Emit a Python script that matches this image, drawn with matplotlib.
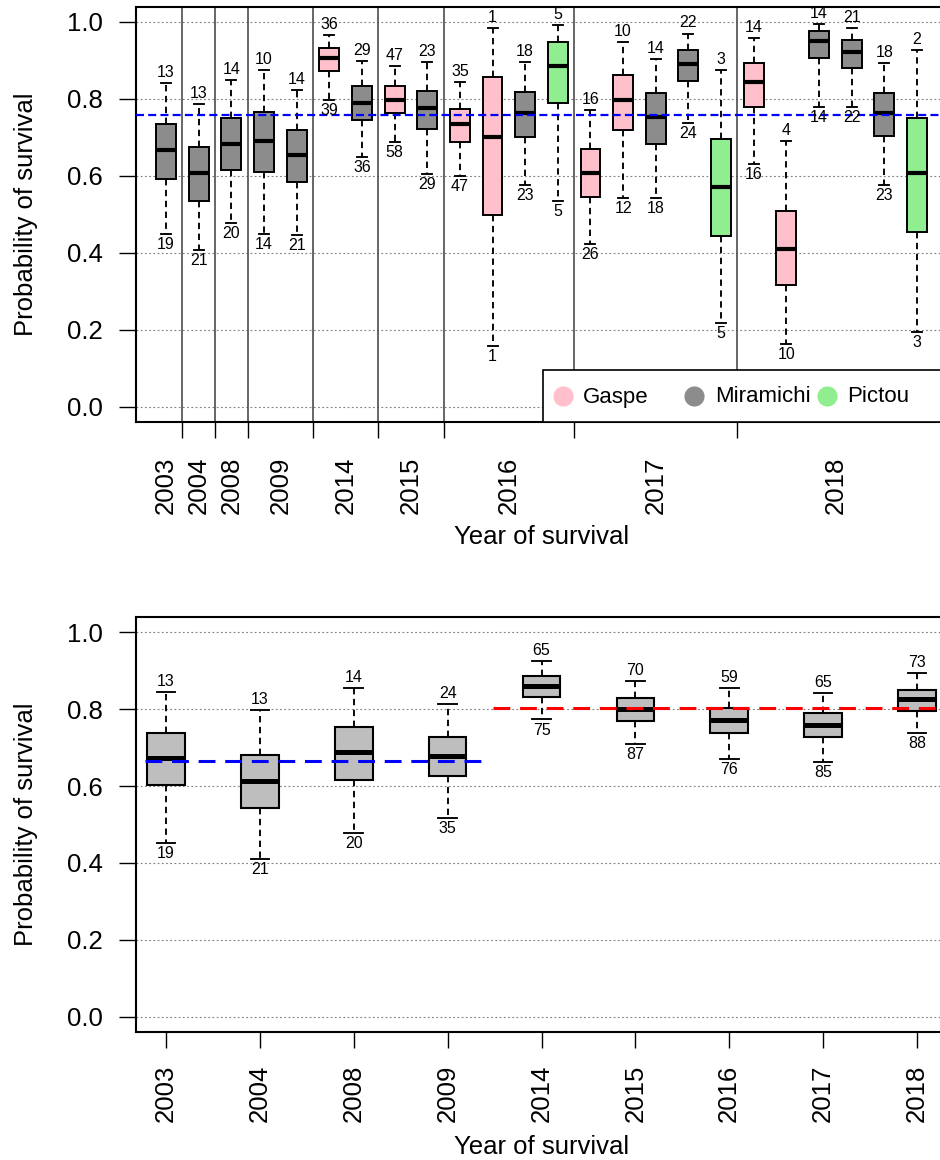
import matplotlib
matplotlib.use("Agg")
import matplotlib.pyplot as plt
from matplotlib.patches import Rectangle
import numpy as np

plt.rcParams['font.family'] = ['Liberation Sans', 'DejaVu Sans']

# ---------------- data: survival by year and river ----------------
top_groups = ['2003', '2004', '2008', '2009', '2014', '2015', '2016', '2017', '2018']
top_group_sizes = [1, 1, 1, 2, 2, 2, 4, 5, 6]
top_sites = (['Miramichi'] * 5 +
             ['Gaspe', 'Miramichi', 'Gaspe', 'Miramichi',
              'Gaspe', 'Gaspe', 'Miramichi', 'Pictou',
              'Gaspe', 'Gaspe', 'Miramichi', 'Miramichi', 'Pictou',
              'Gaspe', 'Gaspe', 'Miramichi', 'Miramichi', 'Miramichi', 'Pictou'])
top_hi = [0.842, 0.786, 0.850, 0.876, 0.822, 0.967, 0.899, 0.886, 0.897,
          0.845, 0.985, 0.897, 0.993, 0.772, 0.948, 0.903, 0.970, 0.874,
          0.958, 0.690, 0.994, 0.985, 0.894, 0.927]
top_q3 = [0.734, 0.675, 0.750, 0.766, 0.719, 0.932, 0.833, 0.833, 0.821,
          0.774, 0.857, 0.819, 0.949, 0.670, 0.861, 0.816, 0.926, 0.695,
          0.894, 0.508, 0.977, 0.953, 0.816, 0.751]
top_med = [0.666, 0.608, 0.683, 0.691, 0.653, 0.906, 0.790, 0.798, 0.776,
           0.735, 0.702, 0.764, 0.886, 0.607, 0.797, 0.753, 0.892, 0.571,
           0.843, 0.410, 0.950, 0.922, 0.764, 0.607]
top_q1 = [0.593, 0.535, 0.615, 0.611, 0.584, 0.873, 0.744, 0.764, 0.723,
          0.689, 0.498, 0.700, 0.789, 0.544, 0.718, 0.684, 0.846, 0.444,
          0.779, 0.315, 0.907, 0.881, 0.703, 0.453]
top_lo = [0.450, 0.407, 0.478, 0.449, 0.447, 0.797, 0.648, 0.687, 0.604,
          0.599, 0.158, 0.576, 0.534, 0.423, 0.542, 0.542, 0.737, 0.217,
          0.631, 0.162, 0.779, 0.779, 0.577, 0.193]
top_n_hi = [13, 13, 14, 10, 14, 36, 29, 47, 23, 35, 1, 18, 5,
            16, 10, 14, 22, 3, 14, 4, 14, 21, 18, 2]
top_n_lo = [19, 21, 20, 14, 21, 39, 36, 58, 29, 47, 1, 23, 5,
            26, 12, 18, 24, 5, 16, 10, 14, 22, 23, 3]
top_mean = 0.758

bot_years = ['2003', '2004', '2008', '2009', '2014', '2015', '2016', '2017', '2018']
bot_hi = [0.845, 0.798, 0.854, 0.812, 0.924, 0.873, 0.854, 0.842, 0.894]
bot_q3 = [0.739, 0.681, 0.754, 0.728, 0.886, 0.828, 0.802, 0.791, 0.850]
bot_med = [0.672, 0.612, 0.688, 0.679, 0.859, 0.801, 0.772, 0.759, 0.825]
bot_q1 = [0.602, 0.543, 0.616, 0.627, 0.831, 0.770, 0.738, 0.728, 0.796]
bot_lo = [0.453, 0.411, 0.479, 0.518, 0.773, 0.710, 0.670, 0.663, 0.738]
bot_n_hi = [13, 13, 14, 24, 65, 70, 59, 65, 73]
bot_n_lo = [19, 21, 20, 35, 75, 87, 76, 85, 88]
early_mean = 0.664
late_mean = 0.802

site_colors = {'Gaspe': '#FFC0CB', 'Miramichi': '#8C8C8C', 'Pictou': '#90EE90'}
site_order = ['Gaspe', 'Miramichi', 'Pictou']

# ---------------- figure layout ----------------
W, H = 940, 1160
fig = plt.figure(figsize=(W / 100, H / 100), dpi=100)
ax_l, ax_r = 136, 947


def axes_rect(top_px, bottom_px):
    return [ax_l / W, 1 - bottom_px / H, (ax_r - ax_l) / W, (bottom_px - top_px) / H]


ax1 = fig.add_axes(axes_rect(6.6, 422))
ax2 = fig.add_axes(axes_rect(616.7, 1032.3))

TICK_FS = 18.5
LABEL_FS = 18.5
N_FS = 11.5
grid_style = dict(color='#7f7f7f', lw=0.8, linestyle=(0, (1.6, 2.2)), zorder=0)


def style_axes(ax):
    ax.set_ylim(-0.04, 1.04)
    ax.set_yticks(np.arange(0, 1.01, 0.2))
    ax.set_yticklabels([f"{v:.1f}" for v in np.arange(0, 1.01, 0.2)])
    ax.tick_params(axis='y', length=12, width=1, pad=12, labelsize=TICK_FS)
    for s in ax.spines.values():
        s.set_linewidth(1.5)
    for v in np.arange(0, 1.01, 0.2):
        ax.axhline(v, **grid_style)


def draw_boxes(ax, pos, lo, q1, med, q3, hi, width, face, box_lw, med_lw):
    stats = [dict(med=m, q1=a, q3=b, whislo=l, whishi=h)
             for l, a, m, b, h in zip(lo, q1, med, q3, hi)]
    art = ax.bxp(stats, positions=pos, widths=width, patch_artist=True,
                 showfliers=False, manage_ticks=False,
                 capwidths=[width * 0.5] * len(pos),
                 boxprops=dict(edgecolor='black', linewidth=box_lw),
                 medianprops=dict(color='black', linewidth=med_lw, solid_capstyle='butt'),
                 whiskerprops=dict(color='black', linewidth=1.35, linestyle=(0, (3.4, 2.4))),
                 capprops=dict(color='black', linewidth=1.35),
                 zorder=3)
    for patch, c in zip(art['boxes'], face):
        patch.set_facecolor(c)


def label_counts(ax, pos, lo, hi, n_lo, n_hi):
    for p, l, h, a, b in zip(pos, lo, hi, n_lo, n_hi):
        ax.annotate(str(b), xy=(p, h), xytext=(0, 7.6), textcoords='offset points',
                    ha='center', va='center', fontsize=N_FS, zorder=5)
        ax.annotate(str(a), xy=(p, l), xytext=(0, -7.6), textcoords='offset points',
                    ha='center', va='center', fontsize=N_FS, zorder=5)


# ---------------- top panel: by river ----------------
style_axes(ax1)
pos1 = np.arange(1, len(top_sites) + 1)
ax1.set_xlim(0.08, 24.92)
ends = np.cumsum(top_group_sizes)
starts = ends - np.array(top_group_sizes) + 1
centers = (starts + ends) / 2
separators = ends[:-1] + 0.5
for s in separators:
    ax1.axvline(s, color='#4d4d4d', lw=1.2, zorder=1)

draw_boxes(ax1, pos1, top_lo, top_q1, top_med, top_q3, top_hi, 0.61,
           [site_colors[s] for s in top_sites], 1.4, 3.0)
label_counts(ax1, pos1, top_lo, top_hi, top_n_lo, top_n_hi)
ax1.axhline(top_mean, color='#0000FF', lw=1.6, linestyle=(0, (3.6, 1.9)), zorder=4)

ax1.set_xticks(separators)
ax1.set_xticklabels([])
ax1.tick_params(axis='x', which='major', length=11.5, width=1)
ax1.set_xticks(centers, minor=True)
ax1.set_xticklabels(top_groups, minor=True, rotation=90)
ax1.tick_params(axis='x', which='minor', length=0, pad=25, labelsize=TICK_FS)


# legend drawn in axes coordinates
def fx(px):
    return (px - ax_l) / (ax_r - ax_l)


def fy1(py):
    return (422 - py) / (422 - 6.6)


ax1.add_patch(Rectangle((fx(543), 0), 1 - fx(543), fy1(370), transform=ax1.transAxes,
                        facecolor='white', edgecolor='black', lw=1.2, zorder=6,
                        clip_on=False))
for site, cx, tx in zip(site_order, [563, 694, 827], [583, 715, 847]):
    ax1.plot([fx(cx)], [fy1(396)], marker='o', markersize=14.5, color=site_colors[site],
             markeredgewidth=0, transform=ax1.transAxes, zorder=7, clip_on=False)
    ax1.text(fx(tx), fy1(397), site, transform=ax1.transAxes, ha='left', va='center',
             fontsize=16, zorder=7)

# ---------------- bottom panel: pooled by year ----------------
style_axes(ax2)
pos2 = np.arange(1, len(bot_years) + 1)
ax2.set_xlim(0.68, 9.32)
draw_boxes(ax2, pos2, bot_lo, bot_q1, bot_med, bot_q3, bot_hi, 0.4,
           ['#BEBEBE'] * len(pos2), 1.5, 3.6)
label_counts(ax2, pos2, bot_lo, bot_hi, bot_n_lo, bot_n_hi)
ax2.plot([0.78, 4.42], [early_mean] * 2, color='#0000FF', lw=2.2,
         linestyle=(0, (5.5, 3.2)), zorder=4)
ax2.plot([4.48, 9.4], [late_mean] * 2, color='#FF0000', lw=2.2,
         linestyle=(0, (5.5, 3.2)), zorder=4, clip_on=True)
ax2.set_xticks(pos2)
ax2.set_xticklabels(bot_years, rotation=90)
ax2.tick_params(axis='x', length=11.5, width=1, pad=12, labelsize=TICK_FS)

# ---------------- axis titles ----------------
xc = (ax_l + ax_r) / 2 / W
for ax, ylab_y, xlab_y in [(ax1, (6.6 + 422) / 2, 537), (ax2, (616.7 + 1032.3) / 2, 1147)]:
    fig.text(26 / W, 1 - ylab_y / H, 'Probability of survival', rotation=90,
             ha='center', va='center', fontsize=LABEL_FS)
    fig.text(xc, 1 - xlab_y / H, 'Year of survival', ha='center', va='center',
             fontsize=LABEL_FS)

fig.savefig('out.png', dpi=100)
